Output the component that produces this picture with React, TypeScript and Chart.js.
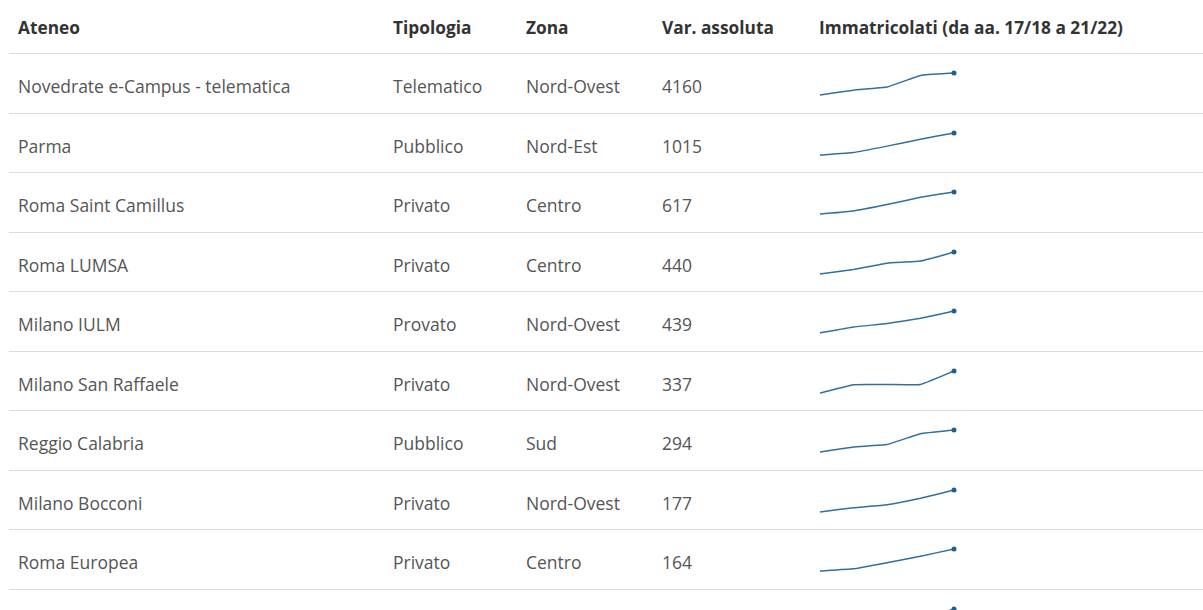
import React, { useEffect, useRef } from "react";
import { Chart, registerables } from "chart.js";

Chart.register(...registerables);

const headers = ["Ateneo", "Tipologia", "Zona", "Var. assoluta", "Immatricolati (da aa. 17/18 a 21/22)"];
const years = ["17/18", "18/19", "19/20", "20/21", "21/22"];

const ateneo = [
  "Novedrate e-Campus - telematica",
  "Parma",
  "Roma Saint Camillus",
  "Roma LUMSA",
  "Milano IULM",
  "Milano San Raffaele",
  "Reggio Calabria",
  "Milano Bocconi",
  "Roma Europea",
  "",
];
const tipologia = ["Telematico", "Pubblico", "Privato", "Privato", "Provato", "Privato", "Pubblico", "Privato", "Privato", ""];
const zona = ["Nord-Ovest", "Nord-Est", "Centro", "Centro", "Nord-Ovest", "Nord-Ovest", "Sud", "Nord-Ovest", "Centro", ""];
const varAssoluta = ["4160", "1015", "617", "440", "439", "337", "294", "177", "164", ""];

const novedrate = [3000, 3915, 4500, 6700, 7160];
const parma = [5200, 5315, 5610, 5930, 6215];
const saintCamillus = [200, 287, 465, 669, 817];
const lumsa = [1300, 1388, 1516, 1560, 1740];
const iulm = [1500, 1618, 1689, 1794, 1939];
const sanRaffaele = [800, 928, 930, 931, 1137];
const reggio = [1300, 1368, 1400, 1544, 1594];
const bocconi = [2700, 2734, 2758, 2810, 2877];
const europea = [400, 416, 462, 510, 564];
const nextRow = [300, 320, 350, 380, 450];

const series = [novedrate, parma, saintCamillus, lumsa, iulm, sanRaffaele, reggio, bocconi, europea, nextRow];

const FONT = "'Open Sans', 'Noto Sans', sans-serif";
const colX = [18, 393, 526, 662, 819];
const HEADER_H = 54;
const ROW_H = 59.5;
const LINE_COLOR = "#2f70a0";

function Sparkline({ data }: { data: number[] }) {
  const ref = useRef<HTMLCanvasElement>(null);
  useEffect(() => {
    if (!ref.current) return;
    const chart = new Chart(ref.current, {
      type: "line",
      data: {
        labels: years,
        datasets: [
          {
            data,
            borderColor: LINE_COLOR,
            backgroundColor: "#1f5f8f",
            borderWidth: 1.5,
            pointRadius: data.map((_, i) => (i === data.length - 1 ? 2.5 : 0)),
            pointBorderWidth: 0,
            pointHoverRadius: 0,
            tension: 0.1,
            fill: false,
            clip: false,
          },
        ],
      },
      options: {
        animation: false,
        responsive: false,
        maintainAspectRatio: false,
        events: [],
        layout: { padding: { left: 5, right: 6, top: 19, bottom: 18 } },
        plugins: { legend: { display: false }, tooltip: { enabled: false } },
        scales: {
          x: { display: false, offset: false },
          y: { display: false, min: Math.min(...data), max: Math.max(...data) },
        },
      },
    });
    return () => chart.destroy();
  }, [data]);
  return <canvas ref={ref} width={145} height={59} style={{ display: "block", width: 145, height: 59 }} />;
}

export default function App() {
  return (
    <div
      style={{
        position: "absolute",
        left: 0,
        top: 0,
        width: 1203,
        height: 610,
        overflow: "hidden",
        background: "#fff",
        fontFamily: FONT,
      }}
    >
      {headers.map((h, i) => (
        <div
          key={h}
          style={{
            position: "absolute",
            left: colX[i],
            top: 1,
            height: HEADER_H,
            lineHeight: HEADER_H + "px",
            fontSize: 17.3,
            fontWeight: 700,
            color: "#333",
            whiteSpace: "nowrap",
          }}
        >
          {h}
        </div>
      ))}
      <div style={{ position: "absolute", left: 9, right: 0, top: HEADER_H - 1, height: 1, background: "#dcdcdc" }} />
      {ateneo.map((name, r) => {
        const top = HEADER_H + r * ROW_H;
        const cells = [name, tipologia[r], zona[r], varAssoluta[r]];
        return (
          <React.Fragment key={r}>
            {cells.map((c, i) => (
              <div
                key={i}
                style={{
                  position: "absolute",
                  left: colX[i],
                  top: top + 1,
                  height: ROW_H,
                  lineHeight: ROW_H + 4 + "px",
                  fontSize: 17.5,
                  color: "#555",
                  whiteSpace: "nowrap",
                }}
              >
                {c}
              </div>
            ))}
            <div style={{ position: "absolute", left: 815, top: top }}>
              <Sparkline data={series[r]} />
            </div>
            <div
              style={{ position: "absolute", left: 9, right: 0, top: top + ROW_H - 1, height: 1, background: "#dcdcdc" }}
            />
          </React.Fragment>
        );
      })}
    </div>
  );
}
